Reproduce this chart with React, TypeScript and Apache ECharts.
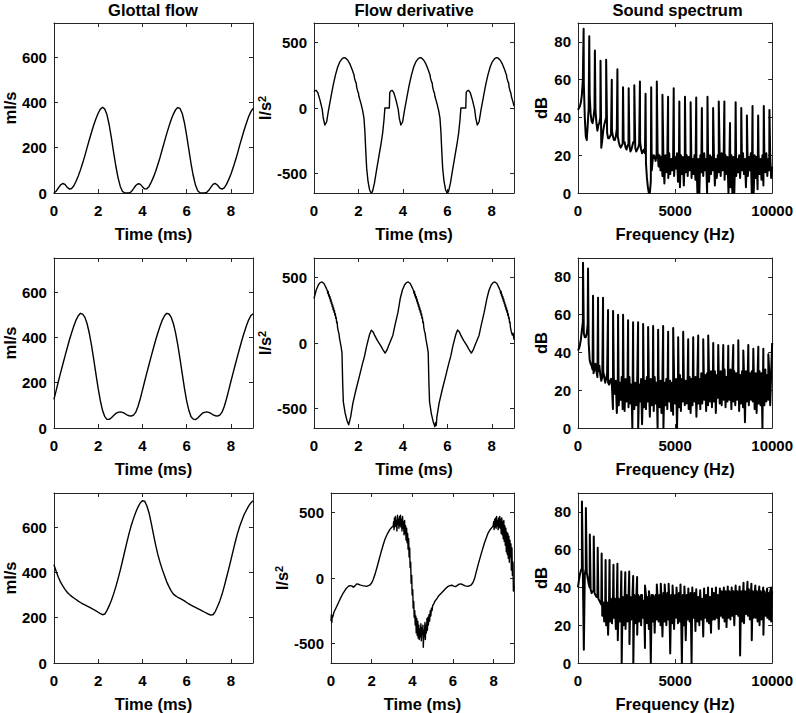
import React, { useEffect, useRef } from "react";
import * as echarts from "echarts";

const FONT = "'Liberation Sans', Arial, Helvetica, sans-serif";

// ---------- data ----------
const TIME_STEP_MS = 0.1; // sampling of the glottal-flow arrays (0 .. 9 ms)
const SPEC_STEP_HZ = 50; // sampling of the spectrum floor arrays (0 .. 10000 Hz)

const titles = ["Glottal flow", "Flow derivative", "Sound spectrum"];
const timeTicks = [0, 2, 4, 6, 8];
const flowTicks = [0, 200, 400, 600];
const derivTicks = [-500, 0, 500];
const freqTicks = [0, 5000, 10000];
const dbTicks = [0, 20, 40, 60, 80];

const flowRow1 = [
  0, 8, 22, 36, 42, 38, 25, 17, 20, 32,
  52, 75, 102, 132, 165, 200, 235, 268, 300, 328,
  352, 370, 378, 370, 345, 300, 242, 178, 118, 67,
  29, 7, 0, 0, 0, 6, 19, 33, 41, 39,
  28, 18, 19, 29, 48, 70, 96, 126, 158, 193,
  228, 262, 294, 323, 348, 367, 377, 373, 351, 310,
  254, 191, 129, 76, 35, 10, 1, 0, 0, 2,
  12, 26, 39, 42, 34, 22, 17, 23, 38, 59,
  83, 111, 142, 175, 211, 245, 278, 308, 336, 358,
  373,
];

const flowRow2 = [
  126, 165, 205, 243, 280, 317, 353, 388, 420, 450,
  476, 495, 506, 502, 488, 460, 418, 365, 303, 238,
  175, 120, 77, 50, 38, 38, 45, 55, 64, 69,
  71, 69, 64, 58, 54, 53, 57, 70, 95, 128,
  166, 205, 243, 280, 317, 353, 388, 420, 450, 476,
  495, 506, 503, 489, 461, 420, 367, 305, 240, 176,
  120, 78, 50, 39, 37, 44, 54, 64, 69, 71,
  69, 64, 58, 54, 53, 57, 70, 95, 128, 166,
  205, 243, 280, 317, 353, 388, 420, 450, 476, 495,
  504,
];

const flowRow3 = [
  434, 405, 378, 357, 340, 325, 312, 302, 294, 287,
  280, 273, 267, 261, 256, 251, 246, 241, 236, 230,
  224, 218, 213, 216, 232, 253, 277, 305, 337, 372,
  410, 450, 492, 533, 573, 608, 638, 665, 688, 706,
  716, 714, 694, 662, 617, 567, 520, 478, 443, 412,
  385, 358, 337, 318, 304, 296, 290, 285, 280, 274,
  267, 261, 255, 250, 245, 240, 235, 230, 225, 220,
  215, 211, 214, 228, 250, 274, 303, 338, 376, 414,
  454, 495, 535, 572, 603, 630, 655, 674, 692, 706,
  716,
];

const derivRow1: number[][] = [
  [0, 125], [0.05, 133], [0.1, 135], [0.17, 118], [0.27, 60], [0.37, -10], [0.42, -80], [0.49, -130],
  [0.57, -105], [0.65, -20], [0.77, 90], [0.87, 180], [0.97, 255], [1.07, 315], [1.17, 355], [1.27, 378],
  [1.35, 385], [1.42, 382], [1.52, 365], [1.62, 335], [1.72, 292], [1.78, 262], [1.8, 255], [1.82, 230],
  [1.87, 200], [1.9, 190], [1.92, 160], [1.97, 125], [2.0, 115], [2.02, 90], [2.07, 60], [2.12, 30],
  [2.19, -20], [2.25, -80], [2.29, -180], [2.33, -330], [2.37, -460], [2.43, -560], [2.5, -625], [2.57, -650],
  [2.63, -640], [2.72, -575], [2.82, -470], [2.92, -370], [3.02, -270], [3.09, -190], [3.15, -90], [3.19, 0],
  [3.39, 0],
  [3.41, 120], [3.47, 133], [3.52, 135], [3.59, 118], [3.69, 60], [3.79, -10], [3.84, -80], [3.91, -130],
  [3.99, -105], [4.07, -20], [4.19, 90], [4.29, 180], [4.39, 255], [4.49, 315], [4.59, 355], [4.69, 378],
  [4.77, 385], [4.84, 382], [4.94, 365], [5.04, 335], [5.14, 292], [5.2, 262], [5.22, 255], [5.24, 230],
  [5.29, 200], [5.32, 190], [5.34, 160], [5.39, 125], [5.42, 115], [5.44, 90], [5.49, 60], [5.54, 30],
  [5.61, -20], [5.67, -80], [5.71, -180], [5.75, -330], [5.79, -460], [5.85, -560], [5.92, -625], [5.99, -650],
  [6.05, -640], [6.14, -575], [6.24, -470], [6.34, -370], [6.44, -270], [6.51, -190], [6.57, -90], [6.61, 0],
  [6.83, 0],
  [6.85, 120], [6.91, 133], [6.96, 135], [7.03, 118], [7.13, 60], [7.23, -10], [7.28, -80], [7.35, -130],
  [7.43, -105], [7.51, -20], [7.63, 90], [7.73, 180], [7.83, 255], [7.93, 315], [8.03, 355], [8.13, 378],
  [8.21, 385], [8.28, 382], [8.38, 365], [8.48, 335], [8.58, 292], [8.64, 262], [8.66, 255], [8.68, 230],
  [8.73, 200], [8.76, 190], [8.78, 160], [8.83, 125], [8.86, 115], [8.88, 90], [8.93, 60], [8.98, 30],
  [9.0, 15],
];

const derivRow2: number[][] = [
  [0, 340], [0.1, 405], [0.2, 445], [0.28, 462], [0.36, 467], [0.45, 455], [0.55, 420],
  [0.6, 400], [0.62, 380], [0.64, 395], [0.66, 360], [0.68, 372], [0.7, 342], [0.72, 355], [0.74, 320],
  [0.76, 335], [0.78, 300], [0.8, 312], [0.82, 278], [0.84, 292], [0.86, 255], [0.88, 270], [0.9, 235],
  [0.92, 250], [0.94, 212], [0.96, 225], [0.98, 188], [1.0, 195], [1.02, 155], [1.04, 162], [1.06, 120],
  [1.08, 118], [1.1, 85], [1.12, 75], [1.15, 35], [1.22, -30], [1.26, -75], [1.29, -300],
  [1.32, -450], [1.4, -535], [1.48, -590], [1.56, -625], [1.65, -565], [1.75, -460], [1.9, -350], [2.05, -250],
  [2.18, -160], [2.28, -97], [2.36, -30], [2.43, 18], [2.5, 65], [2.58, 98], [2.66, 85], [2.73, 58],
  [2.85, 20], [3.0, -20], [3.1, -50], [3.2, -77], [3.28, -55], [3.36, -20], [3.45, 18], [3.55, 60],
  [3.65, 140], [3.78, 236],
  [3.88, 340], [3.98, 405], [4.08, 445], [4.16, 462], [4.24, 467], [4.33, 455], [4.43, 420],
  [4.48, 400], [4.5, 380], [4.52, 395], [4.54, 360], [4.56, 372], [4.58, 342], [4.6, 355], [4.62, 320],
  [4.64, 335], [4.66, 300], [4.68, 312], [4.7, 278], [4.72, 292], [4.74, 255], [4.76, 270], [4.78, 235],
  [4.8, 250], [4.82, 212], [4.84, 225], [4.86, 188], [4.88, 195], [4.9, 155], [4.92, 162], [4.94, 120],
  [4.96, 118], [4.98, 85], [5.0, 75], [5.03, 35], [5.1, -30], [5.14, -75], [5.17, -300],
  [5.2, -450], [5.28, -540], [5.36, -600], [5.44, -640], [5.47, -610], [5.5, -630], [5.53, -565], [5.63, -460],
  [5.78, -350], [5.93, -250],
  [6.06, -160], [6.16, -97], [6.24, -30], [6.31, 18], [6.38, 65], [6.46, 100], [6.54, 85], [6.61, 58],
  [6.73, 20], [6.88, -20], [6.98, -50], [7.08, -77], [7.16, -55], [7.24, -20], [7.33, 18], [7.43, 60],
  [7.53, 140], [7.66, 236],
  [7.78, 340], [7.88, 405], [7.98, 445], [8.06, 462], [8.14, 467], [8.23, 455], [8.33, 420],
  [8.38, 400], [8.4, 380], [8.42, 395], [8.44, 360], [8.46, 372], [8.48, 342], [8.5, 355], [8.52, 320],
  [8.54, 335], [8.56, 300], [8.58, 312], [8.6, 278], [8.62, 292], [8.64, 255], [8.66, 270], [8.68, 235],
  [8.7, 250], [8.72, 212], [8.74, 225], [8.76, 188], [8.78, 195], [8.8, 155], [8.82, 162], [8.84, 120],
  [8.86, 118], [8.88, 85], [8.9, 75], [8.93, 60], [8.96, 75], [9.0, 25],
];

const derivRow3: number[][] = [
  [0, -330], [0.02, -280], [0.04, -340], [0.06, -290], [0.08, -300], [0.15, -260], [0.28, -218], [0.45, -160],
  [0.6, -115], [0.75, -80], [0.85, -64], [0.93, -58], [1.02, -60], [1.1, -70], [1.18, -60], [1.26, -45],
  [1.35, -48], [1.42, -52], [1.55, -58], [1.75, -64], [1.9, -55], [2.0, -38], [2.08, -10], [2.16, 26],
  [2.25, 75], [2.32, 115], [2.45, 190], [2.55, 245], [2.65, 295], [2.78, 340], [2.9, 372], [3.0, 390],
  [3.06, 397], [3.08, 430], [3.1, 370], [3.12, 460], [3.14, 390], [3.17, 470], [3.19, 400], [3.22, 440],
  [3.24, 360], [3.27, 480], [3.29, 410], [3.32, 450], [3.34, 380], [3.37, 470], [3.39, 400], [3.42, 480],
  [3.44, 390], [3.47, 450], [3.49, 360], [3.52, 470], [3.54, 380], [3.57, 430], [3.59, 330], [3.62, 440],
  [3.64, 340], [3.67, 400], [3.69, 290], [3.72, 380], [3.74, 270], [3.77, 340], [3.79, 220], [3.82, 300],
  [3.84, 160], [3.87, 230], [3.89, 80], [3.92, 120], [3.94, -40], [3.97, 20], [3.99, -130], [4.02, -90],
  [4.04, -230], [4.07, -180], [4.09, -300], [4.12, -250], [4.14, -360], [4.17, -290], [4.19, -420], [4.22, -310],
  [4.24, -440], [4.27, -330], [4.29, -460], [4.32, -360], [4.34, -470], [4.37, -390], [4.39, -450], [4.42, -350],
  [4.44, -480], [4.47, -380], [4.49, -430], [4.52, -360], [4.54, -530], [4.57, -400], [4.59, -450], [4.62, -340],
  [4.64, -470], [4.67, -360], [4.69, -420], [4.72, -310], [4.74, -400], [4.77, -300], [4.79, -360], [4.82, -280],
  [4.85, -330], [4.88, -250], [4.91, -290], [4.94, -230], [4.97, -250], [5.0, -210], [5.05, -200], [5.1, -180],
  [5.2, -160], [5.3, -135], [5.43, -115], [5.55, -95], [5.65, -78], [5.76, -64], [5.85, -58], [5.95, -55],
  [6.03, -62], [6.12, -66], [6.2, -58], [6.3, -47], [6.4, -46], [6.5, -52], [6.6, -60], [6.74, -64],
  [6.88, -55], [6.97, -38], [7.05, -10], [7.15, 51], [7.25, 110], [7.4, 192], [7.55, 270], [7.73, 346],
  [7.85, 375], [7.97, 397], [8.0, 430], [8.02, 370], [8.05, 450], [8.07, 390], [8.1, 460], [8.12, 380],
  [8.15, 470], [8.17, 400], [8.2, 440], [8.22, 370], [8.25, 460], [8.27, 390], [8.3, 470], [8.32, 380],
  [8.35, 450], [8.37, 340], [8.4, 460], [8.42, 330], [8.45, 430], [8.47, 300], [8.5, 440], [8.52, 280],
  [8.55, 400], [8.57, 250], [8.6, 380], [8.62, 200], [8.65, 350], [8.67, 180], [8.7, 340], [8.72, 150],
  [8.75, 320], [8.77, 120], [8.8, 290], [8.82, 160], [8.85, 260], [8.87, 60], [8.9, 230], [8.92, 20],
  [8.95, 120], [8.97, -100], [9.0, -60],
];

// spectrum row 1 (f0 ~ 290 Hz); floor sampled every 50 Hz
const specFloor1 = [
  44, 45, 46, 48, 52, 60, 58, 40, 30, 28,
  36, 45, 52, 42, 38, 37, 40, 45, 44, 37,
  33, 36, 37, 40, 24, 28, 33, 36, 38, 40,
  32, 29, 29, 30, 31, 33, 30, 28, 28, 30,
  34, 30, 27, 25, 24, 25, 26, 27, 27, 24,
  23, 25, 26, 25, 22, 23, 25, 27, 27, 24,
  22, 23, 24, 26, 27, 23, 21, 22, 23, 21,
  16, 8, 3, 0, 0, 6, 12, 18, 20, 19,
  17, 21, 22, 14, 20, 12, 19, 9, 18, 5,
  20, 11, 19, 8, 21, 10, 18, 12, 20, 9,
  19, 13, 21, 6, 18, 3, 20, 10, 19, 4,
  18, 11, 20, 9, 19, 12, 21, 8, 18, 10,
  20, 7, 19, 0, 18, 0, 20, 11, 19, 9,
  21, 12, 18, 0, 19, 6, 20, 10, 19, 12,
  21, 4, 18, 8, 20, 11, 19, 9, 21, 12,
  18, 7, 20, 10, 19, 0, 18, 3, 20, 0,
  19, 0, 21, 9, 18, 11, 20, 8, 19, 12,
  21, 10, 18, 3, 20, 9, 19, 12, 21, 0,
  18, 0, 20, 8, 19, 2, 21, 10, 18, 7,
  20, 4, 19, 11, 21, 9, 18, 12, 20, 8,
  14,
];
const specHarmHz1 = [
  290, 580, 870, 1160, 1450, 1740, 2030, 2320, 2610, 2900, 3190, 3480, 3770, 4060, 4350, 4640, 4930,
  5220, 5510, 5800, 6090, 6380, 6670, 6960, 7250, 7540, 7830, 8120, 8410, 8700, 8990, 9280, 9570, 9860,
];
const specHarmDb1 = [
  87, 83, 75.5, 70, 70.5, 60, 65.5, 56, 55.5, 57, 59, 52.5, 56, 59, 52, 51, 55.5,
  48.5, 51, 48, 50.5, 45, 51, 45, 48.5, 48.5, 37, 48, 45, 41, 46, 41, 46, 44,
];

// spectrum row 2 (f0 ~ 258 Hz)
const specFloor2 = [
  41, 42, 44, 47, 52, 56, 50, 48, 48, 50,
  55, 45, 36, 34, 33, 31, 29, 31, 34, 30,
  27, 30, 33, 28, 25, 27, 30, 27, 24, 26,
  29, 24, 23, 25, 26, 22, 10, 24, 18, 25,
  8, 26, 12, 24, 15, 27, 10, 25, 9, 26,
  14, 24, 11, 27, 13, 23, 0, 26, 10, 24,
  12, 25, 0, 23, 14, 26, 2, 24, 11, 25,
  10, 27, 14, 24, 6, 26, 12, 25, 9, 27,
  13, 24, 0, 26, 11, 25, 8, 27, 0, 24,
  12, 26, 10, 27, 14, 25, 9, 24, 7, 27,
  13, 26, 0, 25, 11, 28, 9, 26, 14, 27,
  12, 25, 13, 28, 10, 27, 8, 26, 12, 28,
  14, 27, 6, 28, 13, 26, 10, 29, 13, 27,
  15, 28, 9, 29, 12, 27, 14, 30, 11, 28,
  14, 30, 8, 28, 16, 29, 13, 30, 12, 28,
  15, 31, 11, 27, 14, 30, 15, 31, 10, 29,
  14, 30, 12, 29, 15, 31, 9, 28, 13, 30,
  11, 29, 3, 30, 14, 31, 12, 29, 15, 30,
  14, 31, 10, 29, 8, 28, 13, 30, 12, 29,
  0, 30, 12, 31, 14, 28, 15, 30, 12, 29,
  45,
];
const specHarmHz2 = [
  258, 516, 774, 1032, 1290, 1548, 1806, 2064, 2322, 2580, 2838, 3096, 3354, 3612, 3870, 4128, 4386,
  4644, 4902, 5160, 5418, 5676, 5934, 6192, 6450, 6708, 6966, 7224, 7482, 7740, 7998, 8256, 8514, 8772,
  9030, 9288, 9546, 9804,
];
const specHarmDb2 = [
  87.5, 84.5, 70, 69, 69, 62.5, 62, 60, 60, 57, 56, 56, 55, 53.5, 54, 52, 54,
  51, 53, 48, 51, 47, 48, 49, 47, 49, 45, 44, 44, 43.5, 44, 46.5, 41, 44,
  42, 43, 42, 39,
];

// spectrum row 3 (f0 ~ 203 Hz)
const specFloor3 = [
  40, 44, 47, 49, 50, 48, 7, 47, 50, 48,
  45, 42, 40, 39, 37, 38, 38, 37, 36, 35,
  35, 34, 33, 32, 31, 25, 32, 22, 31, 20,
  32, 15, 33, 22, 34, 21, 33, 24, 34, 18,
  35, 12, 34, 22, 33, 0, 35, 20, 34, 18,
  36, 22, 33, 10, 35, 23, 34, 0, 36, 21,
  34, 15, 36, 22, 35, 20, 36, 24, 33, 8,
  36, 21, 35, 18, 34, 0, 36, 22, 35, 16,
  36, 23, 35, 22, 36, 20, 34, 14, 37, 22,
  35, 20, 37, 23, 34, 5, 36, 21, 35, 18,
  36, 24, 35, 21, 37, 22, 33, 0, 36, 20,
  35, 12, 36, 23, 34, 22, 37, 0, 35, 24,
  37, 17, 36, 22, 35, 20, 37, 23, 34, 14,
  37, 24, 36, 22, 38, 21, 35, 16, 38, 23,
  37, 23, 38, 24, 36, 18, 37, 25, 38, 24,
  36, 22, 38, 19, 37, 24, 38, 23, 36, 25,
  38, 20, 37, 26, 38, 25, 37, 4, 38, 22,
  37, 21, 38, 26, 37, 25, 39, 23, 36, 12,
  38, 24, 37, 24, 38, 22, 37, 20, 38, 23,
  37, 15, 38, 25, 36, 24, 37, 23, 38, 22,
  38,
];
const specHarmHz3 = [
  203, 406, 609, 812, 1015, 1218, 1421, 1624, 1827, 2030, 2233, 2436, 2639, 2842, 3045, 3248, 3451,
  3654, 3857, 4060, 4263, 4466, 4669, 4872, 5075, 5278, 5481, 5684, 5887, 6090, 6293, 6496, 6699,
  6902, 7105, 7308, 7511, 7714, 7917, 8120, 8323, 8526, 8729, 8932, 9135, 9338, 9541, 9744, 9947,
];
const specHarmDb3 = [
  85.5, 82, 68, 67, 61, 58, 54.5, 54.5, 52, 52.5, 48.5, 48, 48.5, 46, 45.5, 36, 41,
  38, 36, 41.5, 42, 41.5, 42, 41, 40, 41.5, 40.5, 39.5, 40, 39, 38.5, 39.5, 40,
  39.5, 40, 39.5, 40, 40.5, 40, 41, 40.5, 42.5, 43, 42, 41, 40.5, 40, 39.5, 40,
];

// ---------- helpers ----------
function sampled(values: number[], step: number): number[][] {
  return values.map((v, i) => [i * step, v]);
}
function spectrum(floor: number[], hz: number[], db: number[]): number[][] {
  const pts = floor.map((v, i) => [i * SPEC_STEP_HZ, v]);
  hz.forEach((f, k) => pts.push([f, db[k]]));
  pts.sort((a, b) => a[0] - b[0]);
  return pts;
}

const COL_LEFT = [53, 314, 578];
const COL_WIDTH = [200, 200, 199];
const ROW_TOP = [23, 258, 493];
const PANEL_H = 170;
const AXIS_COLOR = "#262626";

type Kind = "flow" | "deriv" | "spec";
const panels: { row: number; col: number; kind: Kind; data: number[][] }[] = [
  { row: 0, col: 0, kind: "flow", data: sampled(flowRow1, TIME_STEP_MS) },
  { row: 0, col: 1, kind: "deriv", data: derivRow1 },
  { row: 0, col: 2, kind: "spec", data: spectrum(specFloor1, specHarmHz1, specHarmDb1) },
  { row: 1, col: 0, kind: "flow", data: sampled(flowRow2, TIME_STEP_MS) },
  { row: 1, col: 1, kind: "deriv", data: derivRow2 },
  { row: 1, col: 2, kind: "spec", data: spectrum(specFloor2, specHarmHz2, specHarmDb2) },
  { row: 2, col: 0, kind: "flow", data: sampled(flowRow3, TIME_STEP_MS) },
  { row: 2, col: 1, kind: "deriv", data: derivRow3 },
  { row: 2, col: 2, kind: "spec", data: spectrum(specFloor3, specHarmHz3, specHarmDb3) },
];

function buildOption() {
  const grid: any[] = [];
  const xAxis: any[] = [];
  const yAxis: any[] = [];
  const xTop: any[] = [];
  const yRight: any[] = [];
  const series: any[] = [];
  const nameStyle = { fontSize: 16.5, fontWeight: "bold", color: "#000", fontFamily: FONT };
  const tick = (vals: number[]) => ({
    show: true, inside: true, length: 4, customValues: vals,
    lineStyle: { color: AXIS_COLOR, width: 1 },
  });
  const line = { show: true, onZero: false, lineStyle: { color: AXIS_COLOR, width: 1 } };
  const label = (vals: number[], margin: number) => ({
    show: true, customValues: vals, margin, color: "#000", fontSize: 15,
    fontWeight: "bold", fontFamily: FONT, formatter: (v: number) => String(v),
  });

  panels.forEach((p, i) => {
    let left = COL_LEFT[p.col];
    let width = COL_WIDTH[p.col];
    if (p.row === 2 && p.col === 1) { left = 331; width = 183; }
    grid.push({ left, top: ROW_TOP[p.row], width, height: PANEL_H });

    const isSpec = p.kind === "spec";
    const xMin = 0, xMax = isSpec ? 10000 : 9;
    const xt = isSpec ? freqTicks : timeTicks;
    let yMin = 0, yMax = 750, yt = flowTicks, yName = "ml/s", yGap = 35.5;
    if (p.kind === "deriv") {
      yMin = -650; yMax = 650; yt = derivTicks; yName = "{b|l/s}{s|2}";
      yGap = p.row === 2 ? 35.5 : 38.5;
    } else if (isSpec) {
      yMin = 0; yMax = 90; yt = dbTicks; yName = "dB"; yGap = 28.5;
    }

    xAxis.push({
      type: "value", gridIndex: i, position: "bottom", min: xMin, max: xMax,
      axisLine: line, axisTick: tick(xt), axisLabel: label(xt, 10), splitLine: { show: false },
      name: isSpec ? "Frequency (Hz)" : "Time (ms)", nameLocation: "middle", nameGap: 32,
      nameTextStyle: nameStyle,
    });
    xTop.push({
      type: "value", gridIndex: i, position: "top", min: xMin, max: xMax,
      axisLine: line, axisTick: tick(xt), axisLabel: { show: false }, splitLine: { show: false },
    });
    yAxis.push({
      type: "value", gridIndex: i, position: "left", min: yMin, max: yMax,
      axisLine: line, axisTick: tick(yt), axisLabel: label(yt, 7), splitLine: { show: false },
      name: yName, nameLocation: "middle", nameGap: yGap,
      nameTextStyle: {
        ...nameStyle,
        rich: {
          b: { fontSize: 16.5, fontWeight: "bold", color: "#000", fontFamily: FONT },
          s: { fontSize: 11, fontWeight: "bold", color: "#000", fontFamily: FONT, verticalAlign: "top" },
        },
      },
    });
    yRight.push({
      type: "value", gridIndex: i, position: "right", min: yMin, max: yMax,
      axisLine: line, axisTick: tick(yt), axisLabel: { show: false }, splitLine: { show: false },
    });
    series.push({
      type: "line", xAxisIndex: i, yAxisIndex: i, data: p.data,
      showSymbol: false, symbol: "none", clip: true, silent: true,
      lineStyle: { color: "#000", width: isSpec ? 2 : 1.4, join: "round" },
    });
  });

  const graphic = titles.map((t, c) => ({
    type: "text",
    x: COL_LEFT[c] + COL_WIDTH[c] / 2,
    y: 10,
    style: {
      text: t, fill: "#000", fontSize: 16.5, fontWeight: "bold", fontFamily: FONT,
      align: "center", verticalAlign: "middle", textAlign: "center", textVerticalAlign: "middle",
    },
  }));

  return {
    animation: false,
    backgroundColor: "#fff",
    grid,
    xAxis: [...xAxis, ...xTop],
    yAxis: [...yAxis, ...yRight],
    series,
    graphic,
  };
}

export default function App() {
  const ref = useRef<HTMLDivElement>(null);
  useEffect(() => {
    const chart = echarts.init(ref.current!, null, { renderer: "svg" });
    chart.setOption(buildOption() as any);
    return () => chart.dispose();
  }, []);
  return (
    <div
      ref={ref}
      style={{ position: "fixed", left: 0, top: 0, width: 796, height: 713, background: "#fff" }}
    />
  );
}
